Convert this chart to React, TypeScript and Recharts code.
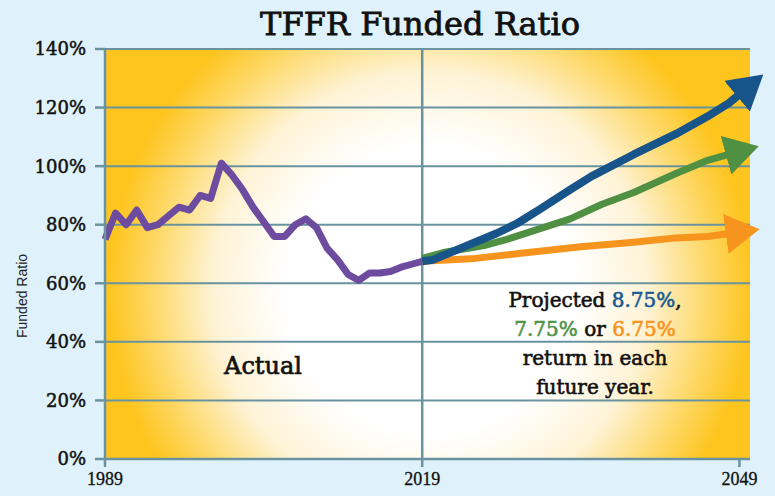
import { LineChart, Line, XAxis, YAxis, CartesianGrid, ReferenceLine } from 'recharts';

const yearTicks = [1989, 2019, 2049];
const ratioTicks = [0, 20, 40, 60, 80, 100, 120, 140];

const actualYears = [
  1989, 1990, 1991, 1992, 1993, 1994, 1995, 1996, 1997, 1998, 1999, 2000, 2001, 2002, 2003, 2004,
  2005, 2006, 2007, 2008, 2009, 2010, 2011, 2012, 2013, 2014, 2015, 2016, 2017, 2018, 2019,
];
const actualRatio = [
  75, 84, 80, 85, 79, 80, 83, 86, 85, 90, 89, 101, 97, 92, 86, 81,
  76, 76, 80, 82, 79, 72, 68, 63, 61, 63.5, 63.5, 64, 65.5, 66.5, 67.5,
];

// 8.75% return
const blueYears = [2019, 2020, 2023, 2026, 2028, 2030, 2033, 2035, 2039, 2043, 2046, 2048, 2049];
const blueRatio = [67.5, 68, 72.5, 77, 80.5, 85, 92, 96.5, 104, 111, 117, 121.5, 124.5];

// 7.75% return
const greenYears = [2019, 2021, 2025, 2027, 2030, 2033, 2036, 2039, 2043, 2046, 2048];
const greenRatio = [68.5, 70.5, 73, 75, 78.5, 82, 87, 91, 97.5, 102, 104];

// 6.75% return
const orangeYears = [2019, 2024, 2029, 2034, 2039, 2043, 2046, 2048];
const orangeRatio = [67.5, 68.5, 70.5, 72.5, 74, 75.5, 76, 77];

const zip = (years: number[], vals: number[]) => years.map((year, i) => ({ year, value: vals[i] }));

const actualData = zip(actualYears, actualRatio);
const blueData = zip(blueYears, blueRatio);
const greenData = zip(greenYears, greenRatio);
const orangeData = zip(orangeYears, orangeRatio);

const gridColor = '#6a939f';
const purple = '#6d4c9f';
const blue = '#17548a';
const green = '#4f9043';
const orange = '#f7941d';

const tickFont = { fontFamily: '"DejaVu Serif", serif', fontSize: 18, fill: '#111', stroke: '#111', strokeWidth: 0.5 };
const yearFont = { fontFamily: '"Liberation Serif", serif', fontSize: 18, fill: '#111', stroke: '#111', strokeWidth: 0.3 };

const arrow = (id: string, color: string) => (
  <marker
    id={id}
    viewBox="0 0 34 40"
    refX={3}
    refY={20}
    markerWidth={34}
    markerHeight={40}
    markerUnits="userSpaceOnUse"
    orient="auto"
  >
    <path d="M0,0 L34,20 L0,40 Z" fill={color} />
  </marker>
);

export default function App() {
  return (
    <div style={{ position: 'absolute', left: 0, top: 0, width: 775, height: 496, background: '#dff1fb', overflow: 'hidden' }}>
      <LineChart width={775} height={496} margin={{ top: 49, right: 25, bottom: 7, left: 10 }}>
        <defs>
          <radialGradient id="plotGlow" gradientUnits="userSpaceOnUse" cx={430} cy={290} r={345}>
            <stop offset="0%" stopColor="#ffffff" />
            <stop offset="42%" stopColor="#ffffff" />
            <stop offset="63%" stopColor="#fef3d6" />
            <stop offset="80%" stopColor="#fed96a" />
            <stop offset="93%" stopColor="#fec51f" />
            <stop offset="100%" stopColor="#fec51f" />
          </radialGradient>
          {arrow('arrowBlue', blue)}
          {arrow('arrowGreen', green)}
          {arrow('arrowOrange', orange)}
        </defs>
        <CartesianGrid
          vertical={false}
          stroke={gridColor}
          strokeWidth={2}
          fill="url(#plotGlow)"
          fillOpacity={1}
        />
        <XAxis
          dataKey="year"
          type="number"
          domain={[1989, 2050]}
          ticks={yearTicks}
          interval={0}
          height={30}
          tickSize={8}
          tickMargin={5}
          stroke={gridColor}
          strokeWidth={2.5}
          tick={yearFont}
        />
        <YAxis
          type="number"
          domain={[0, 140]}
          ticks={ratioTicks}
          interval={0}
          width={95}
          tickSize={10}
          tickMargin={9}
          tickFormatter={(v: number) => `${v}%`}
          stroke={gridColor}
          strokeWidth={2.5}
          tick={tickFont}
        />
        <ReferenceLine x={2019} stroke={gridColor} strokeWidth={2.5} />
        <Line
          data={actualData}
          dataKey="value"
          stroke={purple}
          strokeWidth={7}
          strokeLinejoin="round"
          dot={false}
          activeDot={false}
          isAnimationActive={false}
        />
        <Line
          data={orangeData}
          dataKey="value"
          stroke={orange}
          strokeWidth={7}
          strokeLinejoin="round"
          markerEnd="url(#arrowOrange)"
          dot={false}
          activeDot={false}
          isAnimationActive={false}
        />
        <Line
          data={greenData}
          dataKey="value"
          stroke={green}
          strokeWidth={7}
          strokeLinejoin="round"
          markerEnd="url(#arrowGreen)"
          dot={false}
          activeDot={false}
          isAnimationActive={false}
        />
        <Line
          data={blueData}
          dataKey="value"
          stroke={blue}
          strokeWidth={8}
          strokeLinejoin="round"
          markerEnd="url(#arrowBlue)"
          dot={false}
          activeDot={false}
          isAnimationActive={false}
        />
      </LineChart>

      <div
        style={{
          position: 'absolute',
          left: 220,
          width: 400,
          top: 4,
          lineHeight: '40px',
          textAlign: 'center',
          fontFamily: '"DejaVu Serif", serif',
          fontSize: 32,
          color: '#111',
          WebkitTextStroke: '0.8px',
        }}
      >
        TFFR Funded Ratio
      </div>

      <div
        style={{
          position: 'absolute',
          left: 22,
          top: 296,
          transform: 'translate(-50%, -50%) rotate(-90deg)',
          whiteSpace: 'nowrap',
          fontFamily: '"Liberation Sans", Arial, sans-serif',
          fontSize: 14,
          color: '#222',
        }}
      >
        Funded Ratio
      </div>

      <div
        style={{
          position: 'absolute',
          left: 203,
          width: 120,
          top: 351,
          lineHeight: '30px',
          textAlign: 'center',
          fontFamily: '"DejaVu Serif", serif',
          fontSize: 24,
          color: '#111',
          WebkitTextStroke: '0.7px',
        }}
      >
        Actual
      </div>

      <div
        style={{
          position: 'absolute',
          left: 465,
          width: 260,
          top: 286,
          lineHeight: '29px',
          textAlign: 'center',
          fontFamily: '"DejaVu Serif", serif',
          fontSize: 20,
          color: '#111',
          WebkitTextStroke: '0.6px',
        }}
      >
        Projected <span style={{ color: '#1b5a92' }}>8.75%</span>,<br />
        <span style={{ color: '#4f9447' }}>7.75%</span> or <span style={{ color: orange }}>6.75%</span>
        <br />
        return in each
        <br />
        future year.
      </div>
    </div>
  );
}
